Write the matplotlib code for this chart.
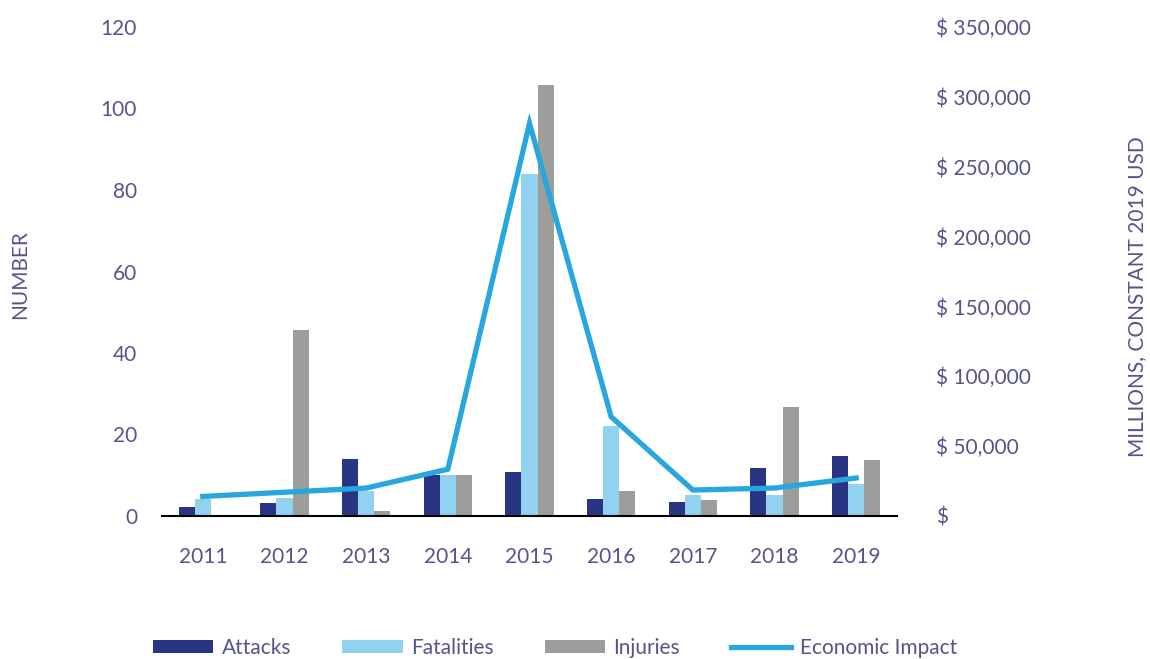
import numpy as np
import matplotlib
matplotlib.use('Agg')
import matplotlib.pyplot as plt
from matplotlib.ticker import FuncFormatter

years = ['2011', '2012', '2013', '2014', '2015', '2016', '2017', '2018', '2019']
attacks = [2.3, 3.3, 14.1, 10.1, 10.8, 4.2, 3.5, 11.9, 14.8]
fatalities = [4.2, 4.5, 6.2, 10.1, 83.9, 22.1, 5.2, 5.2, 7.9]
injuries = [0, 45.7, 1.3, 10.1, 105.8, 6.1, 4.0, 26.8, 13.8]
economic_impact = [14000, 17000, 20000, 33500, 281000, 71000, 18600, 20000, 27200]

text_color = '#55548C'
plt.rcParams['font.family'] = ['Lato', 'DejaVu Sans']
plt.rcParams['font.size'] = 15

fig = plt.figure(figsize=(11.5, 6.59), dpi=100)
ax = fig.add_axes([162 / 1150, 1 - 516 / 659, 735 / 1150, 489 / 659])
ax2 = ax.twinx()

x = np.arange(len(years))
w = 0.196
ax.bar(x - w, attacks, w, color='#283583', label='Attacks')
ax.bar(x, fatalities, w, color='#92D2F1', label='Fatalities')
ax.bar(x + w, injuries, w, color='#9D9D9C', label='Injuries')
ax2.plot(x, economic_impact, color='#27A6DF', lw=3.8, label='Economic Impact',
         solid_joinstyle='miter')

ax.set_xlim(-0.5, len(years) - 0.5)
ax.set_ylim(0, 120)
ax2.set_ylim(0, 350000)
ax.set_yticks(range(0, 121, 20))
ax2.set_yticks(range(0, 350001, 50000))
ax2.yaxis.set_major_formatter(FuncFormatter(lambda v, p: '$' if v == 0 else f'$ {v:,.0f}'))

ax.set_xticks(x)
ax.set_xticklabels(years)

for a in (ax, ax2):
    for s in ('top', 'left', 'right', 'bottom'):
        a.spines[s].set_visible(False)
    a.tick_params(length=0, colors=text_color, labelsize=15)
ax.spines['bottom'].set_visible(True)
ax.spines['bottom'].set_color('black')
ax.spines['bottom'].set_linewidth(1.5)
ax.tick_params(axis='y', pad=18)
ax.tick_params(axis='x', pad=22)
ax2.tick_params(axis='y', pad=28)

fig.text(20 / 1150, 1 - 275 / 659, 'NUMBER', rotation=90, ha='center', va='center',
         color=text_color, fontsize=15)
fig.text(1137 / 1150, 1 - 297 / 659, 'MILLIONS, CONSTANT 2019 USD', rotation=90,
         ha='center', va='center', color=text_color, fontsize=15)

h1, l1 = ax.get_legend_handles_labels()
h2, l2 = ax2.get_legend_handles_labels()
leg = fig.legend(h1 + h2, l1 + l2, loc='center', bbox_to_anchor=(555 / 1150, 11 / 659),
                 ncol=4, frameon=False, handlelength=2.9, handleheight=0.6,
                 handletextpad=0.4, columnspacing=2.45, fontsize=15)
for t in leg.get_texts():
    t.set_color(text_color)

fig.savefig('out.png', dpi=100)
